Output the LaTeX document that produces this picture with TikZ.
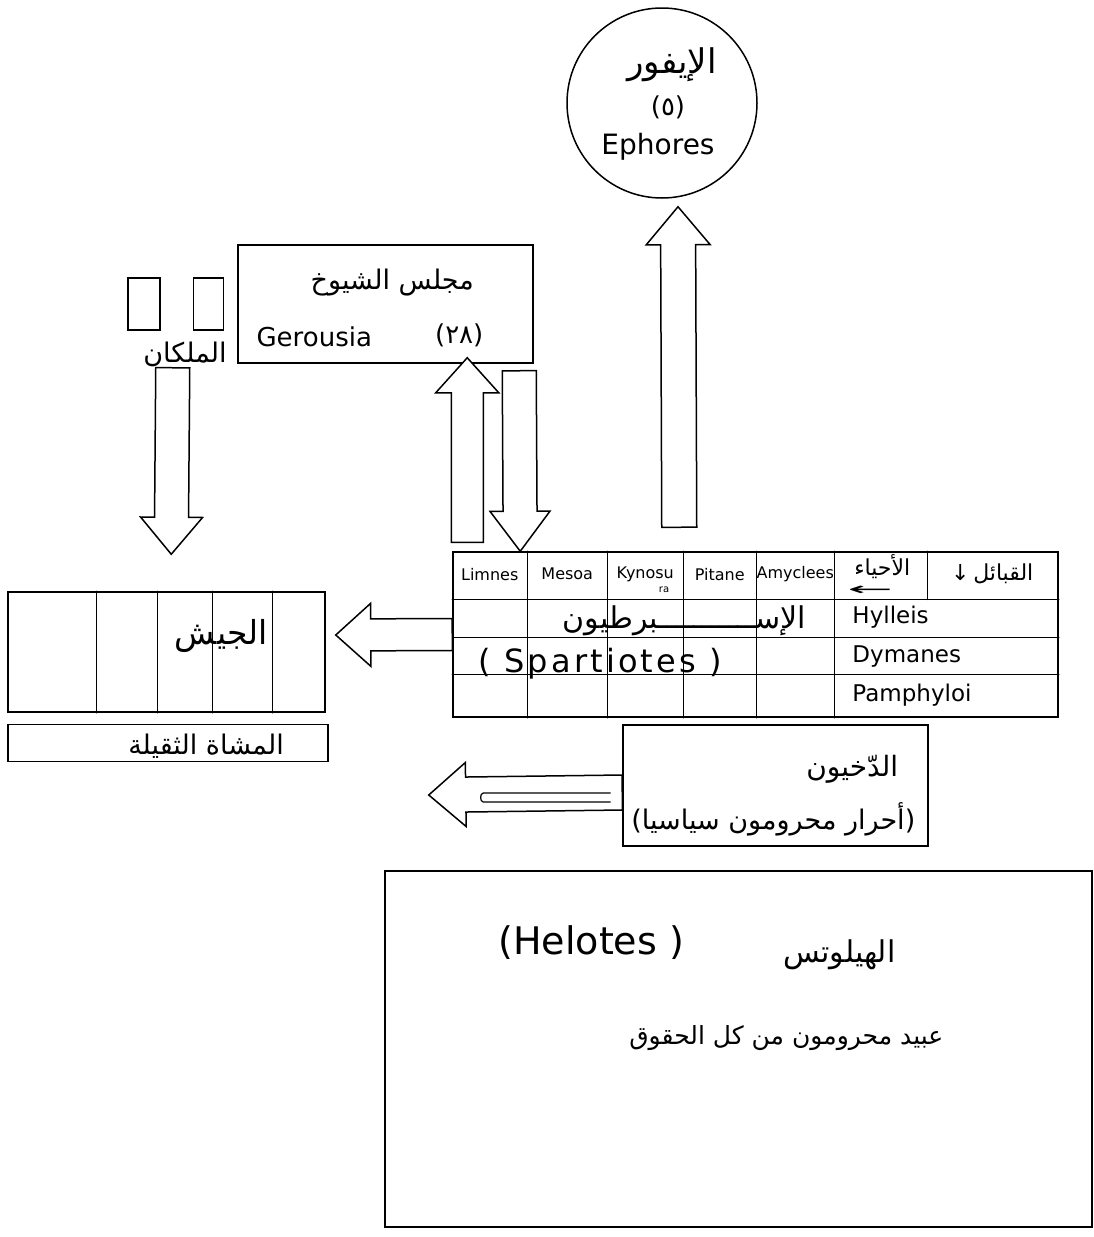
\documentclass[tikz,border=0pt]{standalone}
\usepackage{fontspec}
\setmainfont{DejaVu Sans}
\newfontfamily\arabicfont[Script=Arabic]{DejaVu Sans}
\TeXXeTstate=1
\usepackage{graphicx}
\usetikzlibrary{calc, positioning}

\newcommand{\artext}[1]{{\arabicfont\beginR #1\endR}}
\newcommand{\fsize}[1]{\fontsize{#1}{#1}\selectfont}

\tikzset{
  pen/.style={line width=1.5pt, line cap=round},
  boxK/.style={rectangle, draw=black, line width=1.5pt, inner sep=0pt, fill=white},
  hollow/.style={draw=black, line width=1.5pt, fill=white, line join=miter},
  lbl/.style={inner sep=0pt, font=\fsize{#1}},
  lbl/.default=22,
}

% hollow block arrow: from, to, half shaft, half head, head length
\newcommand{\blockarrow}[5]{%
  \draw[hollow] let \p1=($(#2)-(#1)$), \n1={veclen(\x1,\y1)}, \n2={atan2(\y1,\x1)} in
    [shift={(#1)}, rotate=\n2]
    (0pt,-#3pt) -- (\n1-#5pt,-#3pt) -- (\n1-#5pt,-#4pt) -- (\n1,0pt)
    -- (\n1-#5pt,#4pt) -- (\n1-#5pt,#3pt) -- (0pt,#3pt) -- cycle;}

\begin{document}
\begin{tikzpicture}[x=1pt, y=-1pt]
  \path[fill=white, use as bounding box] (0,0) rectangle (1094,1237);

  % Ephores
  \node[circle, draw, line width=1.5pt, minimum size=190pt, inner sep=0pt] (ephores) at (662,103) {};
  \node[lbl=34] (ephAr) at ($(ephores.center)+(10,-38)$) {\artext{الإيفور}};
  \node[lbl=26] (ephNum) at ($(ephores.center)+(6,4)$) {({\arabicfont ٥})};
  \node[lbl=28] (ephLat) at ($(ephores.center)+(-4,44)$) {Ephores};

  % Gerousia and the two kings
  \node[boxK, minimum width=295pt, minimum height=118pt] (gerousia) at (385.5,304) {};
  \node[lbl=27] (gerAr) at ($(gerousia.north west)+(155,38)$) {\artext{مجلس الشيوخ}};
  \node[lbl=26] (gerLat) at ($(gerousia.north west)+(77,93)$) {Gerousia};
  \node[lbl=26] (gerNum) at ($(gerousia.north west)+(222,91)$) {({\arabicfont ٢٨})};

  \node[boxK, minimum width=32pt, minimum height=52pt] (king1) at (144,304) {};
  \node[boxK, minimum width=30pt, minimum height=52pt, right=32pt of king1] (king2) {};
  \node[lbl=27] (kingsLbl) at (185,354) {\artext{الملكان}};

  % Army and heavy infantry
  \node[boxK, minimum width=317pt, minimum height=120pt] (army) at (166.5,652) {};
  \foreach \cx in {89,150,205,265}
    \draw[pen] ($(army.north west)+(\cx,0)$) -- ($(army.south west)+(\cx,0)$);
  \node[lbl=33] (armyLbl) at ($(army.north west)+(214,45)$) {\artext{الجيش}};
  \node[boxK, minimum width=320pt, minimum height=37pt, below=11pt of army, xshift=1.5pt] (infantry) {};
  \node[lbl=27] (infLbl) at ($(infantry.center)+(38,3)$) {\artext{المشاة الثقيلة}};

  % Spartiates table
  \node[boxK, minimum width=605pt, minimum height=165pt] (table) at (755.5,634.5) {};
  \foreach \ry in {48,86,123}
    \draw[pen] ($(table.north west)+(0,\ry)$) -- ($(table.north east)+(0,\ry)$);
  \foreach \cx in {75,155,231,304,382}
    \draw[pen] ($(table.north west)+(\cx,0)$) -- ($(table.south west)+(\cx,0)$);
  \draw[pen] ($(table.north west)+(475,0)$) -- ($(table.north west)+(475,48)$);
  \foreach \x/\lab in {37.5/Limnes, 115/Mesoa, 193/Kynosu, 267.5/Pitane, 343/Amyclees}
    \node[lbl=16] (h\lab) at ($(table.north west)+(\x,23)$) {\lab};
  \node[lbl=10] (kynoRa) at ($(hKynosu.south east)+(-10,8)$) {ra};
  \node[lbl=22] (hAhya) at ($(table.north west)+(430,15)$) {\artext{الأحياء}};
  \node[lbl=18] (hArrow) at ($(table.north west)+(418,39)$) {\scalebox{3}[1]{←}};
  \node[lbl=22] (hQabail) at ($(table.north west)+(540,23)$) {↓\,\artext{القبائل}};
  \foreach \y/\lab in {66/Hylleis, 105/Dymanes, 144/Pamphyloi}
    \node[lbl=23, anchor=west] (r\lab) at ($(table.north west)+(400,\y)$) {\lab};
  \node[lbl=30] (spArab) at ($(table.north west)+(232,70)$) {\artext{الإســـــــــــبرطيون}};
  \node[lbl=32] (spLat) at ($(table.north west)+(148,112)$) {\addfontfeature{LetterSpace=10}( Spartiotes )};

  % Perioikoi
  \node[boxK, minimum width=305pt, minimum height=121pt] (perioikoi) at (775.5,785.5) {};
  \node[lbl=28] (perAr) at ($(perioikoi.north west)+(230,45)$) {\artext{الدّخيون}};
  \node[lbl=27] (perSub) at ($(perioikoi.north west)+(151,95)$) {(\artext{أحرار محرومون سياسيا})};

  % Helots
  \node[boxK, minimum width=707pt, minimum height=356pt] (helots) at (738.5,1049) {};
  \node[lbl=38] (helLat) at ($(helots.north west)+(207,72)$) {(Helotes )};
  \node[lbl=30] (helAr) at ($(helots.north west)+(455,85)$) {\artext{الهيلوتس}};
  \node[lbl=25] (helSub) at ($(helots.north west)+(402,168)$) {\artext{عبيد محرومون من كل الحقوق}};

  % block arrows
  \coordinate (kingsFoot) at ($(king1.south east)+(12,37)$);
  \coordinate (kingsTip) at ($(army.north west)+(164,-37)$);
  \blockarrow{kingsFoot}{kingsTip}{17}{31}{37}
  \coordinate (gerUpFoot) at ($(table.north west)+(15,-9)$);
  \coordinate (gerUpTip) at ($(gerousia.south west)+(230,-6)$);
  \blockarrow{gerUpFoot}{gerUpTip}{16}{31.5}{35}
  \coordinate (gerDownFoot) at ($(gerousia.south west)+(282,7)$);
  \blockarrow{gerDownFoot}{$(table.north west)+(68,0)$}{17}{30}{40}
  \coordinate (ephFoot) at ($(table.north west)+(227,-24)$);
  \coordinate (ephTip) at ($(ephores.south)+(16,8)$);
  \blockarrow{ephFoot}{ephTip}{17.5}{32}{38}
  \coordinate (armyTip) at ($(army.east)+(10,-17)$);
  \blockarrow{table.west}{armyTip}{16}{31.5}{35}
  \coordinate (perFoot) at ($(perioikoi.west)+(0,7)$);
  \coordinate (infTip) at ($(infantry.east)+(100,52)$);
  \blockarrow{perFoot}{infTip}{17.5}{32}{37}
  \coordinate (loopA) at ($(perioikoi.west)+(-12,7.5)$);
  \coordinate (loopB) at ($(perioikoi.west)+(-12,16.5)$);
  \draw[pen, line width=1.2pt] (loopA) -- ++(-127,0) to[out=180, in=180] ++(0,9) -- (loopB);
\end{tikzpicture}
\end{document}
